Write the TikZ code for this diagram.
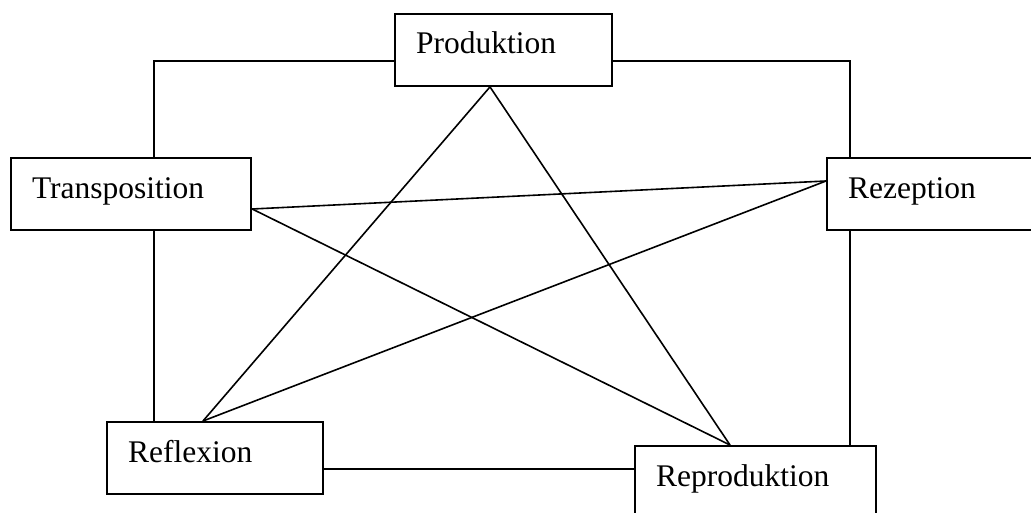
\documentclass[tikz,border=0pt]{standalone}
\usepackage{fontspec}
\setmainfont{Liberation Serif}
\usetikzlibrary{calc}
\begin{document}
\begin{tikzpicture}[x=1pt,y=-1pt,
  stage/.style={draw, line width=2.2pt, rectangle, anchor=north west,
    inner xsep=21pt, inner ysep=0pt, text height=40pt, text depth=32pt,
    align=left, font=\fontsize{31.5}{36}\selectfont},
  link/.style={line width=2pt},
  cross/.style={line width=1.6pt}]
\useasboundingbox (0,0) rectangle (1031,513);

% the five stages
\node[stage, text width=175pt] (prod)  at (394,12.7) {Produktion};
\node[stage, text width=198pt] (trans) at (10,157)   {Transposition};
\node[stage, text width=198pt] (rez)   at (826,157)  {Rezeption};
\node[stage, text width=174pt] (refl)  at (106,421)  {Reflexion};
\node[stage, text width=199pt] (repro) at (634,445)  {Reproduktion};

% guide lines for the outer frame
\coordinate (topline) at (0,61);
\coordinate (botline) at (0,469);
\coordinate (lcol) at (154,0);
\coordinate (rcol) at (850,0);

% outer frame
\draw[link] (prod.west |- topline) -- (lcol |- topline) -- (lcol |- trans.north);
\draw[link] (prod.east |- topline) -- (rcol |- topline) -- (rcol |- rez.north);
\draw[link] (lcol |- trans.south) -- (lcol |- refl.north);
\draw[link] (rcol |- rez.south) -- (rcol |- repro.north);
\draw[link] (refl.east |- botline) -- (repro.west |- botline);

% star points
\coordinate (pP) at ($(prod.south west)+(96,0)$);
\coordinate (pT) at ($(trans.north east)+(0,52)$);
\coordinate (pZ) at ($(rez.north west)+(0,24)$);
\coordinate (pF) at ($(refl.north west)+(97,0)$);
\coordinate (pR) at ($(repro.north west)+(96,0)$);

% inner star
\draw[cross] (pP) -- (pF);
\draw[cross] (pP) -- (pR);
\draw[cross] (pT) -- (pZ);
\draw[cross] (pT) -- (pR);
\draw[cross] (pZ) -- (pF);
\end{tikzpicture}
\end{document}
